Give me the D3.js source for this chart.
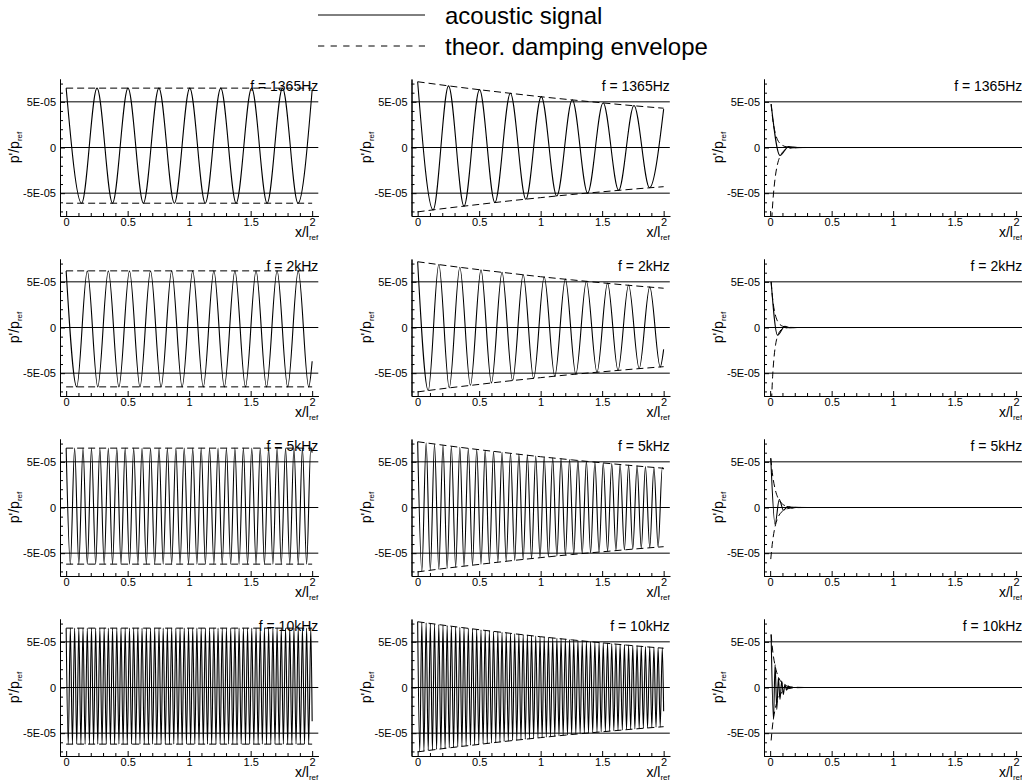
<!DOCTYPE html>
<html><head><meta charset="utf-8">
<script src="https://cdn.jsdelivr.net/npm/d3@7"></script>
<style>
body{margin:0;background:#fff}
svg{display:block;font-family:"Liberation Sans",Arial,Helvetica,sans-serif}
</style>
</head><body>
<svg id="chart" width="1022" height="783"></svg>
<script>
// ---------- DATA (pressure values given in units of 1E-05 p'/p_ref) ----------
const VALUE_UNIT = 1e-5;
const frequencyLabels = ["f = 1365Hz", "f = 2kHz", "f = 5kHz", "f = 10kHz"];
const legendLabels = ["acoustic signal", "theor. damping envelope"];
const yTickValues = [-5e-5, 0, 5e-5];
const yTickLabels = ["-5E-05", "0", "5E-05"];
const yMinorTicks = [-7e-5,-6e-5,-4e-5,-3e-5,-2e-5,-1e-5,1e-5,2e-5,3e-5,4e-5,6e-5,7e-5];
const xTickValues = [0, 0.5, 1, 1.5, 2];
const xTickLabels = ["0", "0.5", "1", "1.5", "2"];
const xMinorTicks = [0.1,0.2,0.3,0.4,0.6,0.7,0.8,0.9,1.1,1.2,1.3,1.4,1.6,1.7,1.8,1.9];

// positions (x/l_ref) of signal extrema, per frequency
const x1365 = [0,0.126,0.251,0.377,0.503,0.628,0.754,0.880,1.005,1.131,1.257,1.382,1.508,1.634,1.759,1.885,2.0];
const x2k = [0,0.086,0.172,0.257,0.343,0.429,0.515,0.600,0.686,0.772,0.858,0.943,1.029,1.115,1.201,1.286,1.372,1.458,1.544,1.629,1.715,1.801,1.887,1.972,2.0];
const x5k = [0,0.034,0.069,0.103,0.137,0.172,0.206,0.240,0.274,0.309,
 0.343,0.377,0.412,0.446,0.480,0.515,0.549,0.583,0.617,0.652,
 0.686,0.720,0.755,0.789,0.823,0.858,0.892,0.926,0.960,0.995,
 1.029,1.063,1.098,1.132,1.166,1.201,1.235,1.269,1.303,1.338,
 1.372,1.406,1.441,1.475,1.509,1.544,1.578,1.612,1.646,1.681,
 1.715,1.749,1.784,1.818,1.852,1.887,1.921,1.955,1.989,2.0];
const x10k = [0,0.017,0.034,0.051,0.069,0.086,0.103,0.120,0.137,0.154,
 0.172,0.189,0.206,0.223,0.240,0.257,0.274,0.292,0.309,0.326,
 0.343,0.360,0.377,0.394,0.412,0.429,0.446,0.463,0.480,0.497,
 0.515,0.532,0.549,0.566,0.583,0.600,0.617,0.635,0.652,0.669,
 0.686,0.703,0.720,0.737,0.755,0.772,0.789,0.806,0.823,0.840,
 0.858,0.875,0.892,0.909,0.926,0.943,0.960,0.978,0.995,1.012,
 1.029,1.046,1.063,1.080,1.098,1.115,1.132,1.149,1.166,1.183,
 1.201,1.218,1.235,1.252,1.269,1.286,1.303,1.321,1.338,1.355,
 1.372,1.389,1.406,1.423,1.441,1.458,1.475,1.492,1.509,1.526,
 1.544,1.561,1.578,1.595,1.612,1.629,1.646,1.664,1.681,1.698,
 1.715,1.732,1.749,1.766,1.784,1.801,1.818,1.835,1.852,1.869,
 1.887,1.904,1.921,1.938,1.955,1.972,1.989,2.0];

// column 1: undamped signal
const undamped1365 = [6.5,-6.1,6.5,-6.1,6.5,-6.1,6.5,-6.1,6.5,-6.1,6.5,-6.1,6.5,-6.1,6.5,-6.1,6.3];
const undamped2k = [6.2,-6.5,6.2,-6.5,6.2,-6.5,6.2,-6.5,6.2,-6.5,6.2,-6.5,6.2,-6.5,6.2,-6.5,6.2,-6.5,6.2,-6.5,6.2,-6.5,6.2,-6.5,-3.7];
const undamped5k = [6.5,-6.2,6.5,-6.2,6.5,-6.2,6.5,-6.2,6.5,-6.2,
 6.5,-6.2,6.5,-6.2,6.5,-6.2,6.5,-6.2,6.5,-6.2,
 6.5,-6.2,6.5,-6.2,6.5,-6.2,6.5,-6.2,6.5,-6.2,
 6.5,-6.2,6.5,-6.2,6.5,-6.2,6.5,-6.2,6.5,-6.2,
 6.5,-6.2,6.5,-6.2,6.5,-6.2,6.5,-6.2,6.5,-6.2,
 6.5,-6.2,6.5,-6.2,6.5,-6.2,6.5,-6.2,6.5,6.0];
const undamped10k = [6.5,-6.2,6.5,-6.2,6.5,-6.2,6.5,-6.2,6.5,-6.2,
 6.5,-6.2,6.5,-6.2,6.5,-6.2,6.5,-6.2,6.5,-6.2,
 6.5,-6.2,6.5,-6.2,6.5,-6.2,6.5,-6.2,6.5,-6.2,
 6.5,-6.2,6.5,-6.2,6.5,-6.2,6.5,-6.2,6.5,-6.2,
 6.5,-6.2,6.5,-6.2,6.5,-6.2,6.5,-6.2,6.5,-6.2,
 6.5,-6.2,6.5,-6.2,6.5,-6.2,6.5,-6.2,6.5,-6.2,
 6.5,-6.2,6.5,-6.2,6.5,-6.2,6.5,-6.2,6.5,-6.2,
 6.5,-6.2,6.5,-6.2,6.5,-6.2,6.5,-6.2,6.5,-6.2,
 6.5,-6.2,6.5,-6.2,6.5,-6.2,6.5,-6.2,6.5,-6.2,
 6.5,-6.2,6.5,-6.2,6.5,-6.2,6.5,-6.2,6.5,-6.2,
 6.5,-6.2,6.5,-6.2,6.5,-6.2,6.5,-6.2,6.5,-6.2,
 6.5,-6.2,6.5,-6.2,6.5,-6.2,6.5,-3.7];

// column 2: weakly damped signal
const damped1365 = [7.20,-6.83,6.75,-6.42,6.34,-6.03,5.94,-5.66,5.57,-5.31,5.23,-4.99,4.90,-4.69,4.60,-4.40,4.2];
const damped2k = [7.20,-6.90,6.89,-6.61,6.60,-6.33,6.31,-6.07,6.04,-5.81,5.79,-5.57,5.54,-5.33,5.30,-5.11,5.07,-4.90,4.86,-4.69,4.65,-4.49,4.45,-4.31,-2.4];
const damped5k = [7.20,-6.99,7.07,-6.87,6.95,-6.75,6.83,-6.64,6.71,-6.53,
 6.60,-6.42,6.48,-6.31,6.37,-6.20,6.26,-6.09,6.15,-5.99,
 6.04,-5.89,5.94,-5.79,5.84,-5.69,5.73,-5.59,5.64,-5.50,
 5.54,-5.40,5.44,-5.31,5.35,-5.22,5.25,-5.13,5.16,-5.05,
 5.07,-4.96,4.99,-4.88,4.90,-4.79,4.81,-4.71,4.73,-4.63,
 4.65,-4.55,4.57,-4.48,4.49,-4.40,4.41,-4.32,4.34,4.2];
const damped10k = [7.20,-7.02,7.14,-6.96,7.07,-6.90,7.01,-6.84,6.95,-6.78,
 6.89,-6.72,6.83,-6.67,6.77,-6.61,6.71,-6.55,6.65,-6.50,
 6.60,-6.44,6.54,-6.39,6.48,-6.33,6.43,-6.28,6.37,-6.23,
 6.31,-6.17,6.26,-6.12,6.20,-6.07,6.15,-6.01,6.09,-5.96,
 6.04,-5.91,5.99,-5.86,5.94,-5.81,5.89,-5.76,5.84,-5.71,
 5.79,-5.66,5.73,-5.62,5.68,-5.57,5.64,-5.52,5.59,-5.47,
 5.54,-5.43,5.49,-5.38,5.44,-5.33,5.40,-5.29,5.35,-5.24,
 5.30,-5.20,5.25,-5.15,5.21,-5.11,5.16,-5.07,5.12,-5.02,
 5.07,-4.98,5.03,-4.94,4.99,-4.90,4.94,-4.85,4.90,-4.81,
 4.86,-4.77,4.81,-4.73,4.77,-4.69,4.73,-4.65,4.69,-4.61,
 4.65,-4.57,4.61,-4.53,4.57,-4.49,4.53,-4.46,4.49,-4.42,
 4.45,-4.38,4.41,-4.34,4.38,-4.31,4.34,-2.6];

// column 3: strongly damped signal
const strongX1365 = [0.008,0.08,0.15,0.22,0.3,2.0];
const strong1365 = [4.75,-0.87,0.1,-0.01,0,0];
const strongX2k = [0.008,0.06,0.12,0.16,0.22,2.0];
const strong2k = [5.0,-0.85,0.14,-0.03,0,0];
const strongX5k = [0.005,0.04,0.074,0.108,0.142,0.176,0.21,0.3,2.0];
const strong5k = [5.4,-1.85,0.87,-0.3,0.11,-0.04,0.015,0,0];
const strongX10k = [0.008,0.027,0.040,0.054,0.067,0.080,0.094,0.107,0.120,0.134,0.148,0.160,0.175,2.0];
const strong10k = [5.8,-3.5,2.5,-2.4,1.1,-1.3,0.7,-0.75,0.35,-0.3,0.15,-0.08,0,0];

// theoretical damping envelopes
const flatEnvX = [0, 2.0];
const flatEnvTop = [6.5, 6.2, 6.5, 6.5];        // per frequency row
const flatEnvBottom = [-6.1, -6.5, -6.2, -6.2];
const dampEnvX = [0,0.25,0.5,0.75,1.0,1.25,1.5,1.75,2.0];
const dampEnvTop = [7.2,6.75,6.33,5.94,5.56,5.22,4.89,4.58,4.30];
const dampEnvBottom = [-7.05,-6.62,-6.23,-5.84,-5.49,-5.15,-4.85,-4.56,-4.29];
const strongEnvX1365 = [0.008,0.02,0.04,0.06,0.08,0.1,0.14,0.2,0.3,2.0];
const strongEnvTop1365 = [4.75,3.2,1.65,0.85,0.44,0.23,0.06,0.008,0,0];
const strongEnvBottom1365 = [-9.1,-6.3,-3.4,-1.82,-0.98,-0.53,-0.15,-0.024,0,0];
const strongEnvX2k = [0.008,0.02,0.03,0.045,0.06,0.08,0.1,0.14,0.2,2.0];
const strongEnvTop2k = [5.0,3.17,2.17,1.23,0.69,0.32,0.15,0.03,0,0];
const strongEnvBottom2k = [-9.2,-5.4,-3.5,-1.82,-0.95,-0.39,-0.17,-0.03,0,0];
const strongEnvX5k = [0.005,0.02,0.04,0.06,0.08,0.1,0.14,0.2,0.3,2.0];
const strongEnvTop5k = [5.4,3.55,2.04,1.16,0.66,0.38,0.12,0.02,0,0];
const strongEnvBottom5k = [-5.65,-3.7,-2.1,-1.2,-0.69,-0.4,-0.13,-0.02,0,0];
const strongEnvX10k = [0.008,0.02,0.04,0.06,0.08,0.1,0.14,0.2,0.3,2.0];
const strongEnvTop10k = [5.8,4.1,2.4,1.38,0.8,0.46,0.15,0.03,0,0];
const strongEnvBottom10k = [-5.8,-4.1,-2.4,-1.38,-0.8,-0.46,-0.15,-0.03,0,0];

// ---------- ASSEMBLY ----------
const zip = (xs, ys) => xs.map((v, i) => [v, ys[i] * VALUE_UNIT]);
const rowsX = [x1365, x2k, x5k, x10k];
const undamped = [undamped1365, undamped2k, undamped5k, undamped10k];
const damped = [damped1365, damped2k, damped5k, damped10k];
const strongX = [strongX1365, strongX2k, strongX5k, strongX10k];
const strong = [strong1365, strong2k, strong5k, strong10k];
const strongEnvX = [strongEnvX1365, strongEnvX2k, strongEnvX5k, strongEnvX10k];
const strongEnvTop = [strongEnvTop1365, strongEnvTop2k, strongEnvTop5k, strongEnvTop10k];
const strongEnvBottom = [strongEnvBottom1365, strongEnvBottom2k, strongEnvBottom5k, strongEnvBottom10k];

const panels = [];
for (let r = 0; r < 4; r++) {
  panels.push({ r, c: 0, signal: zip(rowsX[r], undamped[r]),
    env: [zip(flatEnvX, [flatEnvTop[r], flatEnvTop[r]]), zip(flatEnvX, [flatEnvBottom[r], flatEnvBottom[r]])] });
  panels.push({ r, c: 1, signal: zip(rowsX[r], damped[r]),
    env: [zip(dampEnvX, dampEnvTop), zip(dampEnvX, dampEnvBottom)] });
  panels.push({ r, c: 2, signal: zip(strongX[r], strong[r]),
    env: [zip(strongEnvX[r], strongEnvTop[r]), zip(strongEnvX[r], strongEnvBottom[r])] });
}

// ---------- DRAW ----------
const svg = d3.select("#chart");
const colLeft = [60, 411.5, 764];
const plotW = 258.3, plotH = 137, rowTop0 = 79, rowStep = 180;

const defs = svg.append("defs");

panels.forEach((p, i) => {
  const left = colLeft[p.c], top = rowTop0 + rowStep * p.r, bottom = top + plotH, right = left + plotW;
  const x = d3.scaleLinear().domain([-0.05, 2.05]).range([left, right]);
  const y = d3.scaleLinear().domain([-7.5e-5, 7.5e-5]).range([bottom, top]);
  const g = svg.append("g");

  defs.append("clipPath").attr("id", "clip" + i)
    .append("rect").attr("x", left).attr("y", top).attr("width", plotW).attr("height", plotH);

  // horizontal reference lines
  g.selectAll("line.grid").data(yTickValues).join("line").attr("class", "grid")
    .attr("x1", left).attr("x2", right).attr("y1", d => y(d)).attr("y2", d => y(d))
    .attr("stroke", "#000").attr("stroke-width", 1);

  const line = d3.line().x(d => x(d[0])).y(d => y(d[1])).curve(d3.curveMonotoneX);
  const plot = g.append("g").attr("clip-path", `url(#clip${i})`);
  plot.selectAll("path.env").data(p.env).join("path").attr("class", "env")
    .attr("d", line).attr("fill", "none").attr("stroke", "#000")
    .attr("stroke-width", 1).attr("stroke-dasharray", "7,4");
  plot.append("path").datum(p.signal).attr("d", line)
    .attr("fill", "none").attr("stroke", "#000").attr("stroke-width", 1.1);

  // axes
  const yAxis = d3.axisLeft(y).tickValues(yTickValues).tickFormat((d, k) => yTickLabels[k])
    .tickSize(-5).tickSizeOuter(0).tickPadding(4);
  const yMinor = d3.axisLeft(y).tickValues(yMinorTicks).tickFormat("").tickSize(-3).tickSizeOuter(0);
  const xAxis = d3.axisBottom(x).tickValues(xTickValues).tickFormat((d, k) => xTickLabels[k])
    .tickSize(-5).tickSizeOuter(0).tickPadding(2);
  const xMinor = d3.axisBottom(x).tickValues(xMinorTicks).tickFormat("").tickSize(-3).tickSizeOuter(0);

  g.append("g").attr("transform", `translate(${left},0)`).call(yMinor);
  g.append("g").attr("transform", `translate(${left},0)`).call(yAxis);
  g.append("g").attr("transform", `translate(0,${bottom})`).call(xMinor);
  g.append("g").attr("transform", `translate(0,${bottom})`).call(xAxis);
  g.selectAll("g").attr("font-family", null);
  g.selectAll(".tick text").attr("font-size", 11).attr("fill", "#000");
  g.selectAll(".domain, .tick line").attr("stroke", "#000");

  // frequency label
  g.append("text").attr("x", right).attr("y", top + 11.5).attr("text-anchor", "end")
    .attr("font-size", 14).text(frequencyLabels[p.r]);

  // x-axis title
  const xt = g.append("text").attr("x", right).attr("y", bottom + 21).attr("text-anchor", "end").attr("font-size", 14);
  xt.append("tspan").text("x/l");
  xt.append("tspan").attr("font-size", 8).attr("dy", 3).text("ref");

  // y-axis title
  const yt = g.append("text").attr("transform", `translate(${left - 41},${(top + bottom) / 2}) rotate(-90)`)
    .attr("text-anchor", "middle").attr("font-size", 14);
  yt.append("tspan").text("p'/p");
  yt.append("tspan").attr("font-size", 8).attr("dy", 3).text("ref");
});

// legend
const legend = svg.append("g");
const legendStyles = [null, "6.3,6.3"];
const legendY = [15, 46];
legendLabels.forEach((lab, k) => {
  legend.append("line").attr("x1", 318).attr("x2", 425).attr("y1", legendY[k]).attr("y2", legendY[k])
    .attr("stroke", "#000").attr("stroke-width", 1).attr("stroke-dasharray", legendStyles[k]);
  legend.append("text").attr("x", 445).attr("y", legendY[k] + 9).attr("font-size", 24).text(lab);
});
</script>
</body></html>
